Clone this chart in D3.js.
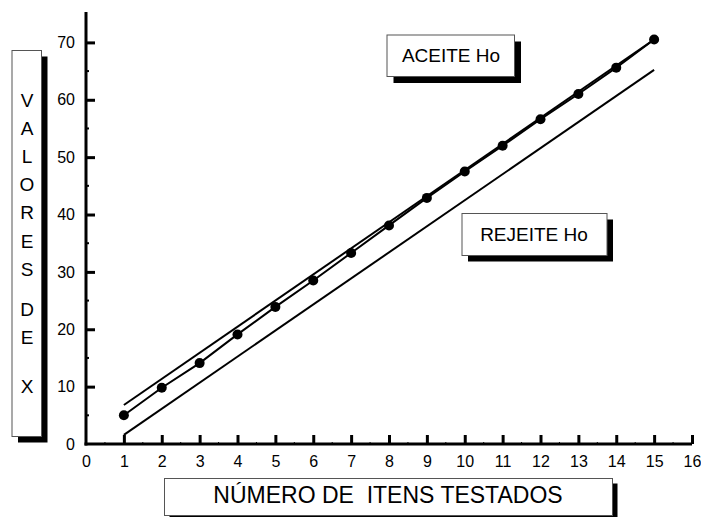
<!DOCTYPE html>
<html lang="pt">
<head>
<meta charset="utf-8">
<script src="https://d3js.org/d3.v7.min.js"></script>
<style>
  body { margin: 0; background: #fff; }
  text { font-family: "Liberation Sans", Arial, sans-serif; fill: #000; }
</style>
</head>
<body>
<script>
  var width = 701, height = 517;

  // data
  var itens = [1, 2, 3, 4, 5, 6, 7, 8, 9, 10, 11, 12, 13, 14, 15];
  var valores = [5, 9.8, 14.1, 19.1, 23.9, 28.5, 33.3, 38.1, 42.9, 47.5, 52, 56.6, 61, 65.6, 70.5];
  var linhaAceite = [[1, 6.8], [15, 70.5]];
  var linhaRejeite = [[1, 1.6], [15, 65.2]];
  var xTicks = d3.range(0, 17, 1);
  var yTicks = [0, 10, 20, 30, 40, 50, 60, 70];
  var yLetters = ["V", "A", "L", "O", "R", "E", "S", "D", "E", "X"];
  var yLetterPos = [100, 127.5, 155.5, 183.5, 212, 241, 269, 309, 337, 386];

  var svg = d3.select('body').append('svg')
    .attr('width', width)
    .attr('height', height);

  var x = d3.scaleLinear().domain([0, 16]).range([86, 692]);
  var y = d3.scaleLinear().domain([0, 75.3]).range([444, 12]);

  // little boxes with a black drop shadow
  function box(x0, y0, w, h, off) {
    svg.append('rect').attr('x', x0 + off).attr('y', y0 + off)
      .attr('width', w).attr('height', h).attr('fill', '#000');
    svg.append('rect').attr('x', x0 + 0.5).attr('y', y0 + 0.5)
      .attr('width', w).attr('height', h)
      .attr('fill', '#fff').attr('stroke', '#555').attr('stroke-width', 1);
  }

  // y title
  box(11.5, 50, 29.5, 386, 6.5);
  svg.selectAll('.ylet').data(yLetters).join('text')
    .attr('class', 'ylet')
    .attr('x', 27)
    .attr('y', function(d, i) { return yLetterPos[i] + 7; })
    .attr('text-anchor', 'middle')
    .style('font-size', '19px')
    .text(function(d) { return d; });

  // x title
  box(164, 478, 448, 37, 5.5);
  svg.append('text')
    .attr('x', 388).attr('y', 503)
    .attr('text-anchor', 'middle')
    .style('font-size', '23px')
    .style('white-space', 'pre')
    .attr('xml:space', 'preserve')
    .text('NÚMERO DE  ITENS TESTADOS');

  // region labels
  box(386.5, 34.5, 127.5, 41.5, 7);
  svg.append('text').attr('x', 451).attr('y', 62)
    .attr('text-anchor', 'middle').style('font-size', '19px').text('ACEITE Ho');

  box(461.5, 213, 145, 42, 6.5);
  svg.append('text').attr('x', 534).attr('y', 241)
    .attr('text-anchor', 'middle').style('font-size', '19px').text('REJEITE Ho');

  // axes
  var xAxis = svg.append('g').attr('transform', 'translate(0,' + y(0) + ')')
    .call(d3.axisBottom(x).tickValues(xTicks).tickSize(-9).tickPadding(12));
  var yAxis = svg.append('g').attr('transform', 'translate(' + x(0) + ',0)')
    .call(d3.axisLeft(y).tickValues(yTicks).tickSize(-9).tickPadding(11));

  [xAxis, yAxis].forEach(function(g) {
    g.select('.domain').remove();
    g.selectAll('.tick line').attr('stroke', '#000').attr('stroke-width', 3);
    g.selectAll('.tick text').style('font-family', '"Liberation Sans", Arial, sans-serif')
      .style('font-size', '16px').attr('fill', '#000');
  });
  xAxis.selectAll('.tick').filter(function(d) { return d === 0; }).select('line').remove();
  yAxis.selectAll('.tick').filter(function(d) { return d === 0; }).select('line').remove();

  // minor ticks
  svg.selectAll('.ymin').data(d3.range(5, 75, 10)).join('line')
    .attr('x1', x(0)).attr('x2', x(0) + 3)
    .attr('y1', function(d) { return y(d); }).attr('y2', function(d) { return y(d); })
    .attr('stroke', '#000').attr('stroke-width', 2);
  svg.selectAll('.xmin').data(d3.range(0.5, 16, 1)).join('line')
    .attr('x1', function(d) { return x(d); }).attr('x2', function(d) { return x(d); })
    .attr('y1', y(0)).attr('y2', y(0) - 2)
    .attr('stroke', '#000').attr('stroke-width', 1);

  svg.append('line').attr('x1', x(0)).attr('x2', x(0))
    .attr('y1', y(0) + 1.5).attr('y2', y(75.3))
    .attr('stroke', '#000').attr('stroke-width', 3);
  svg.append('line').attr('x1', x(0) - 1.5).attr('x2', x(16))
    .attr('y1', y(0)).attr('y2', y(0))
    .attr('stroke', '#000').attr('stroke-width', 3);

  // lines
  var line = d3.line()
    .x(function(d) { return x(d[0]); })
    .y(function(d) { return y(d[1]); });

  svg.append('path').datum(linhaAceite).attr('d', line)
    .attr('fill', 'none').attr('stroke', '#000').attr('stroke-width', 2);
  svg.append('path').datum(linhaRejeite).attr('d', line)
    .attr('fill', 'none').attr('stroke', '#000').attr('stroke-width', 2);

  var pts = itens.map(function(d, i) { return [d, valores[i]]; });
  svg.append('path').datum(pts).attr('d', line)
    .attr('fill', 'none').attr('stroke', '#000').attr('stroke-width', 2);
  svg.selectAll('.pt').data(pts).join('circle')
    .attr('class', 'pt')
    .attr('cx', function(d) { return x(d[0]); })
    .attr('cy', function(d) { return y(d[1]); })
    .attr('r', 5)
    .attr('fill', '#000');
</script>
</body>
</html>
